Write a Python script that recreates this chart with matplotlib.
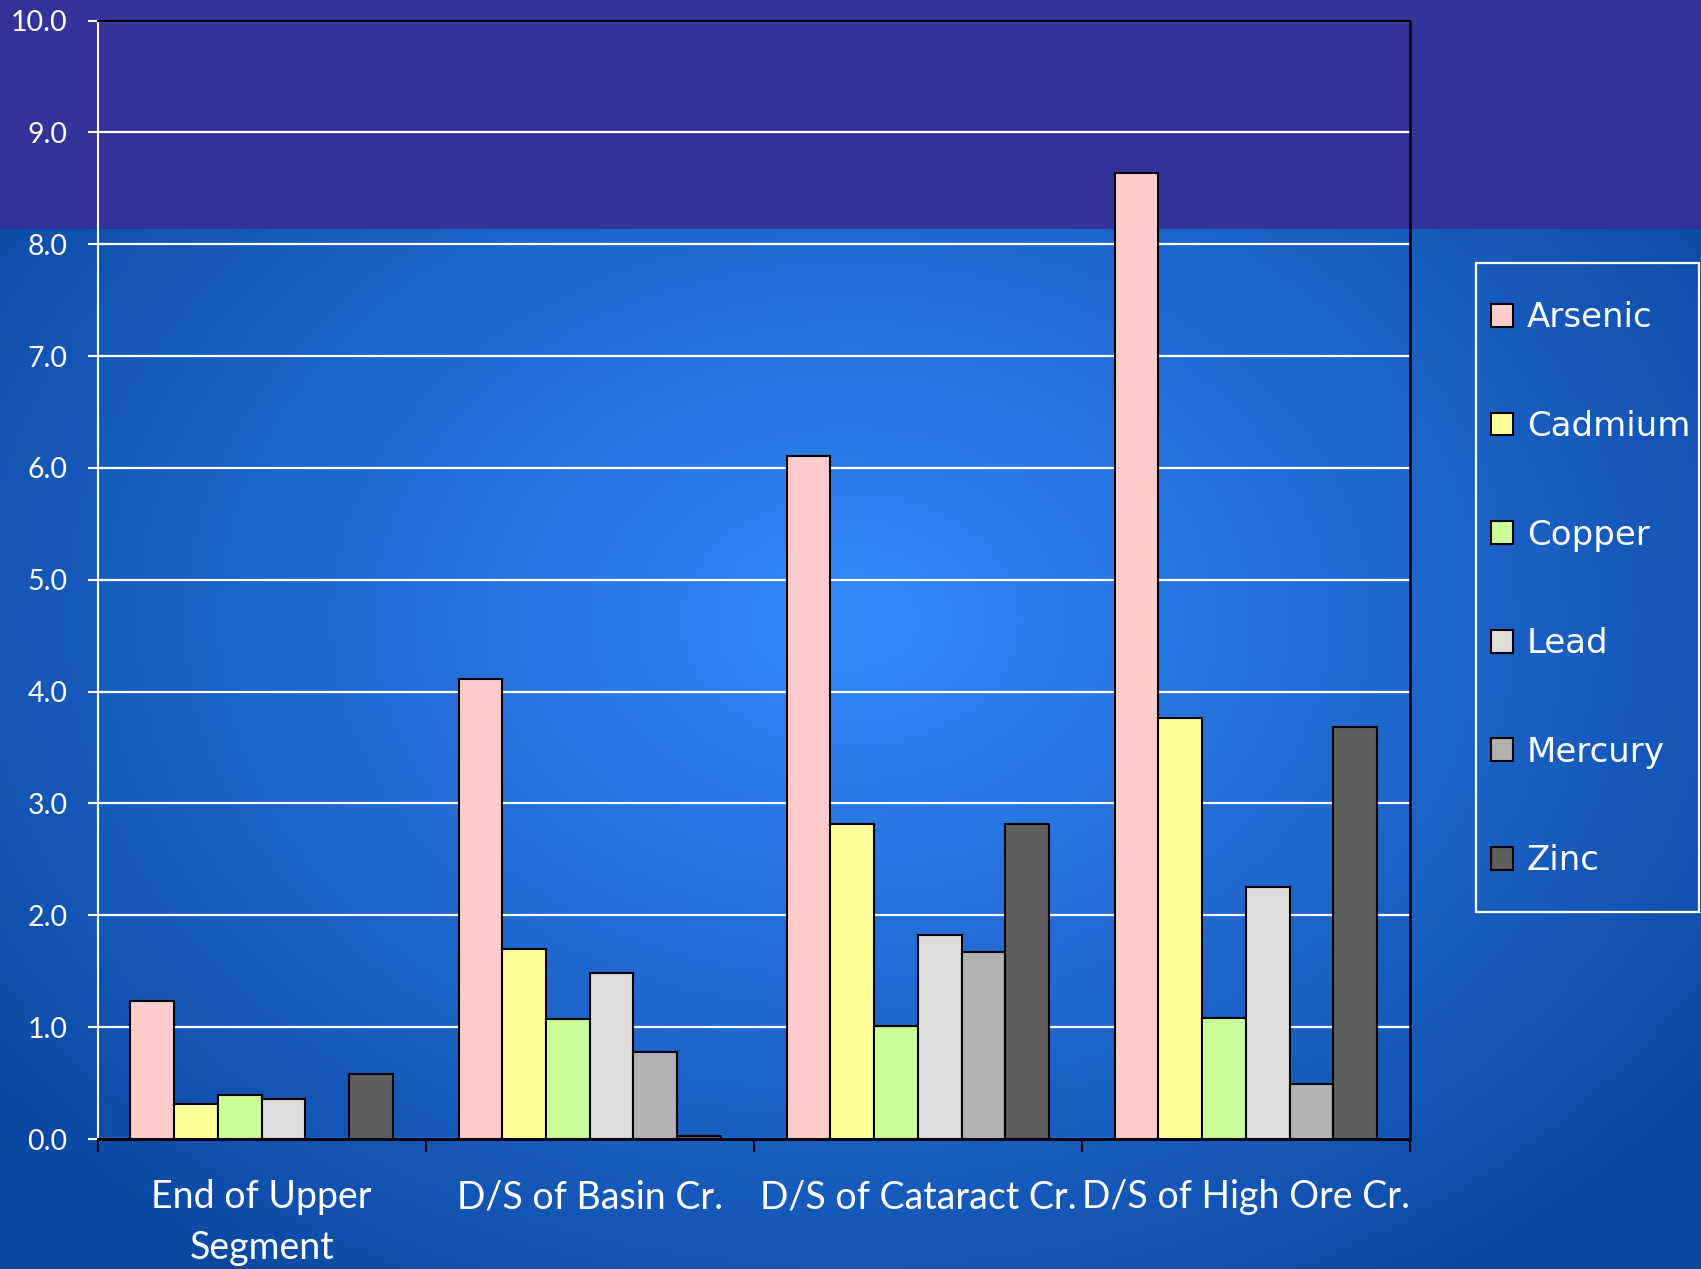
import numpy as np
import matplotlib
matplotlib.use("Agg")
import matplotlib.pyplot as plt
from matplotlib.colors import to_rgb
from matplotlib.patches import Rectangle

# --- data -------------------------------------------------------------
sites = ["End of Upper\nSegment", "D/S of Basin Cr.", "D/S of Cataract Cr.",
         "D/S of High Ore Cr."]
metals = ["Arsenic", "Cadmium", "Copper", "Lead", "Mercury", "Zinc"]
arsenic = [1.23, 4.11, 6.11, 8.64]
cadmium = [0.31, 1.70, 2.82, 3.76]
copper = [0.39, 1.07, 1.01, 1.08]
lead = [0.36, 1.48, 1.82, 2.25]
mercury = [np.nan, 0.78, 1.67, 0.49]
zinc = [0.58, 0.03, 2.82, 3.68]
y_ticks = [0.0, 1.0, 2.0, 3.0, 4.0, 5.0, 6.0, 7.0, 8.0, 9.0, 10.0]

series = [arsenic, cadmium, copper, lead, mercury, zinc]
colors = ["#ffcccc", "#ffff99", "#ccff99", "#dddddd", "#b2b2b2", "#5f5f5f"]

W, H = 1701, 1269
fig = plt.figure(figsize=(W / 100, H / 100), dpi=100)

# --- slide background: radial blue gradient with a purple top band ----
bg = fig.add_axes([0, 0, 1, 1], zorder=-10)
yy, xx = np.mgrid[0:H, 0:W]
dx = (xx - 850) / 850.0
dy = (yy - 620) / 634.0
t = np.clip(np.sqrt(dx ** 2 + dy ** 2) / np.sqrt(2) / 0.9, 0, 1)
c0 = np.array(to_rgb("#3489fa"))
c1 = np.array(to_rgb("#0b48a3"))
img = c0[None, None, :] * (1 - t[..., None]) + c1[None, None, :] * t[..., None]
bg.imshow(img, extent=(0, W, H, 0), origin="upper", interpolation="bilinear")
bg.add_patch(Rectangle((0, 0), W, 229, color="#333399", lw=0))
bg.set_xlim(0, W)
bg.set_ylim(H, 0)
bg.axis("off")

# --- bar chart -------------------------------------------------------
ax = fig.add_axes([97.6 / W, 1 - 1139 / H, (1410 - 97.6) / W, (1139 - 20.6) / H])
ax.set_facecolor("none")

x = np.arange(len(sites))
n = len(metals)
bw = 0.8 / n
for i, (name, vals, col) in enumerate(zip(metals, series, colors)):
    ax.bar(x - 0.4 + bw * (i + 0.5), vals, width=bw, color=col,
           edgecolor="black", linewidth=1.5, label=name, zorder=3)

ax.set_xlim(-0.5, len(sites) - 0.5)
ax.set_ylim(0, 10)
ax.set_yticks(y_ticks)
ax.set_yticklabels([f"{v:.1f}" for v in y_ticks])
ax.yaxis.grid(True, color="white", linewidth=1.6, zorder=0)
ax.set_axisbelow(True)

# category boundaries get tick marks, category centres get the labels
ax.set_xticks(np.arange(len(sites) + 1) - 0.5)
ax.set_xticklabels([])
ax.set_xticks(x, minor=True)
ax.set_xticklabels(sites, minor=True, fontsize=27, family="Lato",
                   color="white", linespacing=1.5)
ax.tick_params(axis="x", which="major", direction="out", length=9.5,
               width=1.5, color="black")
ax.tick_params(axis="x", which="minor", length=0, pad=29)
ax.tick_params(axis="y", direction="out", length=7.2, width=1.5,
               color="white", labelcolor="white", labelsize=20.5, pad=14.5)
for lab in ax.get_yticklabels():
    lab.set_family("Lato")

ax.spines["left"].set_color("white")
ax.spines["left"].set_linewidth(1.5)
for s in ("top", "right", "bottom"):
    ax.spines[s].set_color("black")
ax.spines["top"].set_linewidth(1.5)
ax.spines["right"].set_linewidth(1.8)
ax.spines["bottom"].set_linewidth(2.2)

# --- legend ------------------------------------------------------------
leg = fig.legend(loc="upper left", bbox_to_anchor=(1491 / W, 1 - 301.5 / H),
                 frameon=False, prop={"family": "DejaVu Sans", "size": 24.5},
                 labelcolor="white", handlelength=0.65, handleheight=0.65,
                 handletextpad=0.4, labelspacing=2.22, borderpad=0,
                 borderaxespad=0)
for h in leg.legend_handles:
    h.set_linewidth(1.5)
bg.add_patch(Rectangle((1476, 262.5), 223, 912 - 262.5, fill=False,
                       edgecolor="white", linewidth=1.6))

fig.savefig("out.png", dpi=100)
